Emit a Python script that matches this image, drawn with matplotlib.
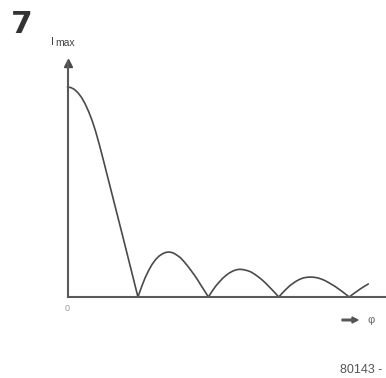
import matplotlib
matplotlib.use("Agg")
import matplotlib.pyplot as plt

plt.rcParams['font.family'] = ['Liberation Sans', 'DejaVu Sans']

# phase (in units of the first zero) and relative intensity
phi = [0.00, 0.05, 0.10, 0.15, 0.20, 0.25, 0.30, 0.35, 0.40, 0.45,
       0.50, 0.55, 0.60, 0.65, 0.70, 0.75, 0.80, 0.85, 0.90, 0.95,
       1.00, 1.05, 1.10, 1.15, 1.20, 1.25, 1.30, 1.35, 1.40, 1.45,
       1.50, 1.55, 1.60, 1.65, 1.70, 1.75, 1.80, 1.85, 1.90, 1.95,
       2.00, 2.05, 2.10, 2.15, 2.20, 2.25, 2.30, 2.35, 2.40, 2.45,
       2.50, 2.55, 2.60, 2.65, 2.70, 2.75, 2.80, 2.85, 2.90, 2.95,
       3.00, 3.05, 3.10, 3.15, 3.20, 3.25, 3.30, 3.35, 3.40, 3.45,
       3.50, 3.55, 3.60, 3.65, 3.70, 3.75, 3.80, 3.85, 3.90, 3.95,
       4.00, 4.05, 4.10, 4.15, 4.20, 4.27]
intensity = [1.000, 0.997, 0.988, 0.972, 0.950, 0.920, 0.883, 0.840, 0.788, 0.728,
             0.664, 0.598, 0.532, 0.466, 0.400, 0.334, 0.268, 0.201, 0.134, 0.067,
             0.000, 0.047, 0.090, 0.125, 0.155, 0.178, 0.195, 0.206, 0.213, 0.214,
             0.210, 0.200, 0.188, 0.170, 0.150, 0.128, 0.105, 0.080, 0.053, 0.027,
             0.000, 0.026, 0.050, 0.070, 0.088, 0.103, 0.115, 0.124, 0.130, 0.132,
             0.130, 0.126, 0.120, 0.110, 0.098, 0.085, 0.070, 0.053, 0.036, 0.018,
             0.000, 0.019, 0.036, 0.052, 0.065, 0.076, 0.085, 0.091, 0.094, 0.095,
             0.094, 0.091, 0.086, 0.079, 0.070, 0.060, 0.050, 0.038, 0.026, 0.013,
             0.000, 0.013, 0.025, 0.037, 0.048, 0.062]

fig = plt.figure(figsize=(3.86, 3.78), dpi=100)
fig.patch.set_facecolor('white')
ax = fig.add_axes([67.5 / 386, 81 / 378, 317 / 386, 235.2 / 378])
ax.set_xlim(0, 4.5)
ax.set_ylim(0, 1.12)
ax.set_facecolor('none')

ax.plot(phi, intensity, color='#4a4a4a', lw=1.2, solid_capstyle='round',
        solid_joinstyle='round', clip_on=False)

for s in ['top', 'right']:
    ax.spines[s].set_visible(False)
for s in ['left', 'bottom']:
    ax.spines[s].set_color('#5a5a5a')
    ax.spines[s].set_linewidth(1.5)
ax.set_xticks([])
ax.set_yticks([])

# arrow head on y axis
ax.plot([0], [1.115], marker='^', markersize=6, color='#4a4a4a', clip_on=False)

# labels
ax.text(0, -0.035, '0', ha='center', va='top', fontsize=6.5, color='#999999')
fig.text(51 / 386, 1 - 45 / 378, 'I', fontsize=8, color='#444444',
         ha='left', va='baseline')
fig.text(55 / 386, 1 - 46.5 / 378, 'max', fontsize=7.5, color='#444444',
         ha='left', va='baseline')
fig.text(11 / 386, 1 - 33 / 378, '7', fontsize=22.5, fontweight='bold',
         family='DejaVu Sans', color='#333333', ha='left', va='baseline')
fig.patches.append(matplotlib.patches.FancyArrow(
    342 / 386, 1 - 320 / 378, 16 / 386, 0, width=1.6 / 378,
    head_width=6 / 378, head_length=6 / 386, length_includes_head=True,
    color='#555555', transform=fig.transFigure, figure=fig))
fig.text(371 / 386, 1 - 320 / 378, 'φ', fontsize=8, color='#666666',
         ha='center', va='center')
fig.text(382 / 386, 1 - 373 / 378, '80143 -', fontsize=9, color='#555555',
         ha='right', va='baseline')

fig.savefig('out.png', dpi=100, facecolor='white')
